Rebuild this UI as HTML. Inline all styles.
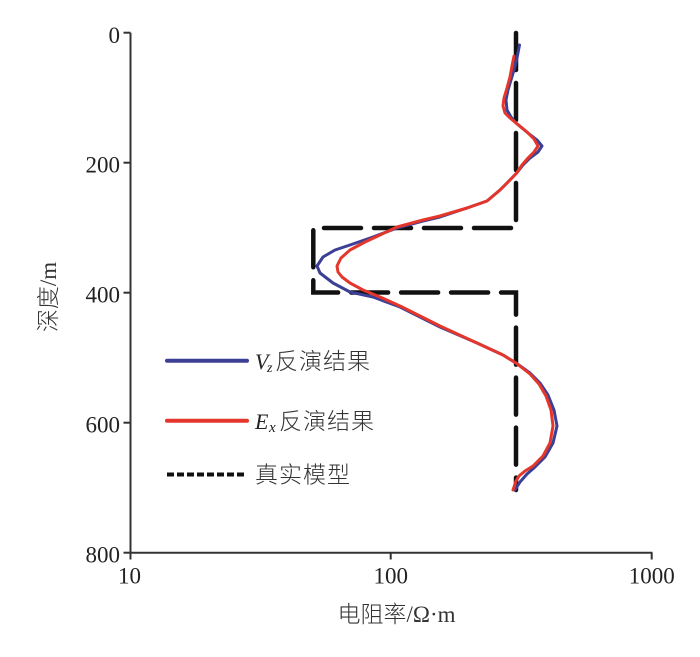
<!DOCTYPE html>
<html>
<head>
<meta charset="utf-8">
<style>
  html,body{margin:0;padding:0;background:#fff;}
  svg{display:block;}
  .num{font-family:"Liberation Serif",serif;font-size:23px;fill:#222;}
  .cjk{font-family:"Liberation Serif","Noto Sans CJK SC",sans-serif;font-size:23px;fill:#333;font-weight:300;}
  .it{font-family:"Liberation Serif",serif;font-style:italic;fill:#222;}
</style>
</head>
<body>
<svg width="700" height="657" viewBox="0 0 700 657" xmlns="http://www.w3.org/2000/svg">
  <rect width="700" height="657" fill="#fff"/>

  <!-- axes -->
  <g stroke="#333" stroke-width="2" fill="none">
    <line x1="130.5" y1="32.7" x2="130.5" y2="553.2"/>
    <line x1="129.5" y1="552.7" x2="652.5" y2="552.7"/>
    <line x1="123.5" y1="32.7" x2="130.5" y2="32.7"/>
    <line x1="123.5" y1="162.7" x2="130.5" y2="162.7"/>
    <line x1="123.5" y1="292.7" x2="130.5" y2="292.7"/>
    <line x1="123.5" y1="422.7" x2="130.5" y2="422.7"/>
    <line x1="123.5" y1="552.7" x2="130.5" y2="552.7"/>
    <line x1="130.5" y1="552.7" x2="130.5" y2="559.5"/>
    <line x1="390.7" y1="552.7" x2="390.7" y2="559.5"/>
    <line x1="651.7" y1="552.7" x2="651.7" y2="559.5"/>
  </g>

  <!-- y tick labels -->
  <g class="num" text-anchor="end">
    <text x="120" y="43">0</text>
    <text x="120" y="172.7">200</text>
    <text x="120" y="302.7">400</text>
    <text x="120" y="432.7">600</text>
    <text x="120" y="562.7">800</text>
  </g>
  <!-- x tick labels -->
  <g class="num" text-anchor="middle">
    <text x="129.5" y="583.5">10</text>
    <text x="390.7" y="583.5">100</text>
    <text x="651.7" y="583.5">1000</text>
  </g>

  <!-- axis titles -->
  <text class="cjk" x="396.5" y="622" text-anchor="middle">电阻率/Ω·m</text>
  <text class="cjk" transform="translate(56,297) rotate(-90)" text-anchor="middle">深度/m</text>

  <!-- true model (dashed) -->
  <path d="M516,33 L516,228 L313.3,228 L313.3,292.5 L516,292.5 L516,490"
        fill="none" stroke="#111" stroke-width="4.5" stroke-dasharray="37 13" stroke-linecap="round" stroke-linejoin="miter"/>

  <!-- Vz inversion (blue) -->
  <polyline fill="none" stroke="#3b3f96" stroke-width="3" stroke-linejoin="round" stroke-linecap="round"
    points="519.5,45 517,58 514,70 511,80 508,90 506,100 507,110 511,117 516,123 528,133 537,140 542,146 538,152 530,158 523,165 516.7,173 508,182 500,190 487,201 467,208 440,217 423,221 397,228 373,237 350,245 335,250 323,257 317,266 320,273 333,283 350,292 373,297 400,307 440,327 477,343 503,355 516,363 530,373 540,383 548,395 554,410 557,426 553,443 545,457 535,467 527,474 520,482 515,490"/>

  <!-- Ex inversion (red) -->
  <polyline fill="none" stroke="#e5362c" stroke-width="3" stroke-linejoin="round" stroke-linecap="round"
    points="514,56 512,66 510,77 507,88 504,98 503,106 505,113 510,118 516,123 527,132 534,139 538,146 534,152 528,158 522,165 516.7,173 508,182 500,190 487,201 467,208 440,216 423,220 397,227 380,235 365,242 350,250 341,258 337,266 338,272 342,277 350,283 363,290 380,297 400,306 440,326 477,343 503,355 516,363 530,374 539,384 546,396 551,410 553,426 550,443 543,456 533,466 525,471 519,476 516,481 513,490"/>

  <!-- legend -->
  <line x1="167" y1="360.7" x2="247" y2="360.7" stroke="#3b3f96" stroke-width="4" stroke-linecap="round"/>
  <text class="it" x="255" y="369" font-size="22">V</text>
  <text class="it" x="267" y="372" font-size="14">z</text>
  <text class="cjk" x="275" y="369" letter-spacing="1">反演结果</text>

  <line x1="167" y1="420.7" x2="247" y2="420.7" stroke="#e5362c" stroke-width="4" stroke-linecap="round"/>
  <text class="it" x="255" y="429" font-size="22">E</text>
  <text class="it" x="269" y="432" font-size="15">x</text>
  <text class="cjk" x="279" y="429" letter-spacing="1">反演结果</text>

  <line x1="167" y1="474.5" x2="247" y2="474.5" stroke="#111" stroke-width="4" stroke-dasharray="7 3"/>
  <text class="cjk" x="255" y="482.5" letter-spacing="1">真实模型</text>
</svg>
</body>
</html>
